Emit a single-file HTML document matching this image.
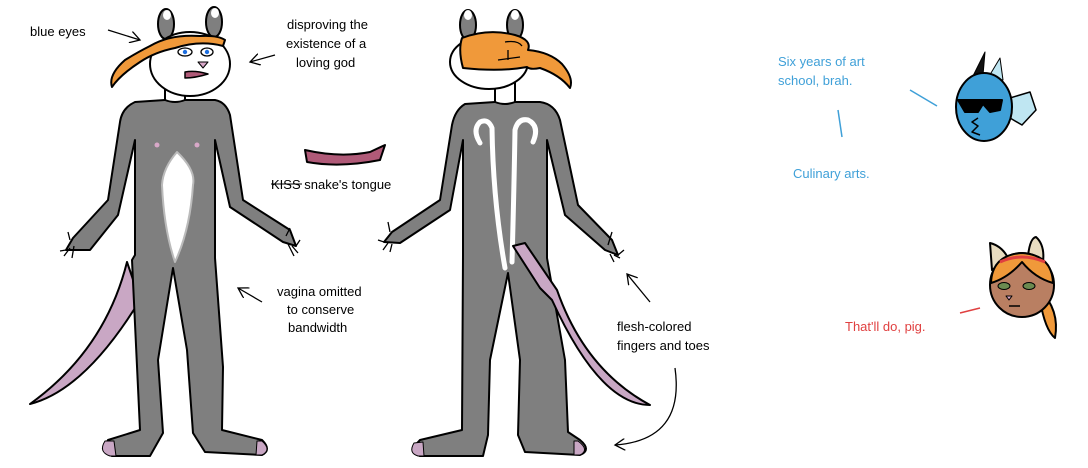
<!DOCTYPE html>
<html><head><style>
html,body{margin:0;padding:0;background:#fff;width:1088px;height:468px;overflow:hidden}
svg{display:block}
text{font-family:"Liberation Sans",sans-serif;font-size:13px;fill:#000}
</style></head><body>
<svg width="1088" height="468" viewBox="0 0 1088 468" xmlns="http://www.w3.org/2000/svg">
<defs>
<marker id="ah" markerWidth="12" markerHeight="12" refX="10" refY="6" orient="auto" markerUnits="userSpaceOnUse">
<path d="M0,0 L10,6 L0,12" fill="none" stroke="#000" stroke-width="1.3"/>
</marker>
</defs>
<g stroke="#000" stroke-width="2" stroke-linejoin="round">
<!-- FIGURE 1 tail -->
<path d="M127,262 Q105,350 30,404 Q85,390 140,300 Z" fill="#c9a7c4"/>
<!-- body -->
<path d="M165,100 L135,102 Q122,108 120,122 L108,200 L73,238 L66,250 L90,250 L118,215 L135,140 L135,255 L132,260 L140,430 L108,440 Q100,452 112,456 L150,456 L163,433 L158,360 L173,268 L187,350 L193,433 L205,452 L262,455 Q272,450 262,440 L222,430 L223,367 L215,258 L215,140 L230,207 L283,242 L296,246 L290,230 L243,200 L230,115 Q226,102 215,100 L185,100 Z" fill="#7f7f7f"/>
<path d="M105,441 Q98,452 110,456 L116,456 L114,441 Z" fill="#c9a7c4" stroke-width="1"/>
<path d="M262,441 Q272,450 262,455 L256,455 L257,441 Z" fill="#c9a7c4" stroke-width="1"/>
<g stroke-width="1.3" fill="none"><path d="M66,250 L60,251 M70,248 L64,256 M74,246 L72,258 M70,240 L68,232"/><path d="M296,246 L300,240 M292,246 L298,253 M288,244 L294,256 M286,236 L290,228"/></g>
<!-- belly -->
<path d="M177,152 Q196,170 193,185 Q190,230 175,262 Q164,230 162,185 Q163,168 177,152 Z" fill="#fff" stroke="#bbb"/>
<circle cx="157" cy="145" r="2.5" fill="#d8a8c8" stroke="none"/>
<circle cx="197" cy="145" r="2.5" fill="#d8a8c8" stroke="none"/>
<!-- neck -->
<path d="M165,80 L165,100 Q175,104 185,100 L185,80 Z" fill="#fff"/>
<!-- ears -->
<ellipse cx="166" cy="24" rx="8" ry="15" fill="#7f7f7f"/>
<ellipse cx="214" cy="22" rx="8" ry="15" fill="#7f7f7f"/>
<ellipse cx="167" cy="15" rx="4" ry="5" fill="#fff" stroke="none"/>
<ellipse cx="215" cy="13" rx="4" ry="5" fill="#fff" stroke="none"/>
<!-- head -->
<ellipse cx="190" cy="64" rx="40" ry="32" fill="#fff"/>
<path d="M150,46 Q170,34 200,36 Q218,35 225,40 L223,46 Q200,40 175,48 Q155,52 140,62 Q120,75 112,87 Q108,75 125,60 Q138,52 150,46 Z" fill="#f0993a"/>
<ellipse cx="185" cy="52" rx="7" ry="4" fill="#fff" stroke-width="1.3"/>
<ellipse cx="207" cy="52" rx="6" ry="4" fill="#fff" stroke-width="1.3"/>
<circle cx="185" cy="52" r="2.2" fill="#1e6fe0" stroke="none"/>
<circle cx="207" cy="52" r="2.2" fill="#1e6fe0" stroke="none"/>
<path d="M198,62 L208,62 L203,68 Z" fill="#d8a8c8" stroke-width="1"/>
<path d="M185,72 Q195,70 208,74 Q195,78 185,78 Z" fill="#b05a78" stroke-width="1.5"/>

<!-- FIGURE 2 -->
<path d="M495,102 L465,104 Q455,110 452,125 L440,200 L392,232 L384,242 L400,243 L450,210 L463,140 L463,255 L462,430 L420,440 Q408,452 420,456 L483,456 L488,435 L490,360 L508,273 L520,360 L518,435 L525,452 L580,455 Q592,450 580,440 L568,432 L565,360 L547,258 L547,140 L565,215 L605,250 L618,255 L612,240 L578,205 L560,120 Q555,104 540,102 L515,102 Z" fill="#7f7f7f"/>
<path d="M414,443 Q408,453 418,456 L424,456 L423,442 Z" fill="#c9a7c4" stroke-width="1"/>
<path d="M578,441 Q590,450 580,455 L574,455 L574,441 Z" fill="#c9a7c4" stroke-width="1"/>
<g stroke-width="1.3" fill="none"><path d="M384,242 L378,240 M388,243 L383,250 M392,244 L390,252 M390,232 L388,222"/><path d="M618,255 L624,250 M614,255 L620,258 M610,254 L614,262 M608,245 L612,232"/></g>
<!-- swirls -->
<g fill="none" stroke="#fff" stroke-width="5" stroke-linecap="round">
<path d="M505,268 Q493,200 492,128 Q488,118 480,122 Q472,130 480,143"/>
<path d="M512,262 Q514,190 515,130 Q518,118 528,120 Q540,126 533,142"/>
</g>
<!-- tail -->
<path d="M513,246 L525,243 L557,290 Q585,370 650,405 Q600,405 552,300 L540,288 Z" fill="#c9a7c4"/>
<path d="M495,82 L495,102 Q505,106 515,102 L515,82 Z" fill="#fff"/>
<ellipse cx="468" cy="25" rx="8" ry="15" fill="#7f7f7f"/>
<ellipse cx="515" cy="25" rx="8" ry="15" fill="#7f7f7f"/>
<ellipse cx="468" cy="15" rx="4" ry="5" fill="#fff" stroke="none"/>
<ellipse cx="515" cy="15" rx="4" ry="5" fill="#fff" stroke="none"/>
<ellipse cx="489" cy="62" rx="39" ry="27" fill="#fff"/>
<path d="M462,38 Q488,28 515,35 Q532,40 528,50 Q550,52 562,64 Q574,78 570,88 Q560,75 540,68 Q530,70 527,67 Q500,72 463,68 Q458,50 462,38 Z" fill="#f0993a"/>
<path d="M505,42 Q518,40 522,46 M508,50 L508,60 M498,60 L520,57" fill="none" stroke-width="1.3"/>
<!-- tongue -->
<path d="M305,150 Q340,158 370,152 L385,145 L380,160 Q340,168 307,162 Z" fill="#b05a78"/>
<!-- FISH -->
<path d="M972,78 L985,52 L983,75 Z" fill="#111" stroke-width="1"/>
<path d="M988,78 L1000,58 L1003,80 Z" fill="#bfe6f2" stroke-width="1"/>
<path d="M1010,98 L1030,92 L1036,110 L1022,125 L1010,118 Z" fill="#bfe6f2" stroke-width="1.5"/>
<ellipse cx="984" cy="107" rx="28" ry="34" fill="#3fa0d8"/>
<path d="M958,100 L1002,100 L1000,110 L990,112 L983,104 L978,112 L965,112 Z" fill="#000"/>
<path d="M978,118 L972,122 L978,126 L972,132 L980,135" fill="none" stroke-width="1.5"/>
<!-- GIRL -->
<path d="M992,270 L990,243 Q1002,246 1008,258 Z" fill="#e8dcc0"/>
<path d="M1028,256 Q1030,238 1036,237 Q1045,245 1043,262 Z" fill="#e8dcc0"/>
<path d="M1040,290 Q1060,310 1055,338 Q1045,330 1040,300 Z" fill="#f0993a"/>
<circle cx="1022" cy="285" r="32" fill="#b97f62"/>
<path d="M991,283 Q992,255 1022,253 Q1052,255 1053,283 Q1035,278 1022,262 Q1008,278 991,283 Z" fill="#f0993a"/>
<path d="M1000,262 Q1022,252 1045,262" fill="none" stroke="#e04040" stroke-width="3"/>
<ellipse cx="1004" cy="286" rx="6" ry="3.5" fill="#6b8a50" stroke-width="1"/>
<ellipse cx="1029" cy="286" rx="6" ry="3.5" fill="#6b8a50" stroke-width="1"/>
<path d="M1006,296 L1012,296 L1009,300 Z" fill="#d8a8c8" stroke-width="1"/>
<path d="M1009,306 L1020,306" stroke-width="1.5"/>
</g>
<!-- arrows/lines -->
<g stroke="#000" stroke-width="1.3" fill="none">
<path d="M108,30 L140,40" marker-end="url(#ah)"/>
<path d="M275,55 L250,62" marker-end="url(#ah)"/>
<path d="M262,302 L238,288" marker-end="url(#ah)"/>
<path d="M650,302 L627,274" marker-end="url(#ah)"/>
<path d="M675,368 Q685,440 615,445" marker-end="url(#ah)"/>
</g>
<g stroke="#3fa0d8" stroke-width="1.5">
<line x1="910" y1="90" x2="937" y2="106"/>
<line x1="838" y1="110" x2="842" y2="137"/>
</g>
<line x1="960" y1="313" x2="980" y2="308" stroke="#e04040" stroke-width="1.5"/>
<!-- text -->
<text x="30" y="36">blue eyes</text>
<text x="287" y="29">disproving the</text>
<text x="286" y="48">existence of a</text>
<text x="296" y="67">loving god</text>
<text x="271" y="189">KISS snake's tongue</text>
<line x1="271" y1="184" x2="302" y2="184" stroke="#000" stroke-width="1"/>
<text x="277" y="296">vagina omitted</text>
<text x="287" y="314">to conserve</text>
<text x="288" y="332">bandwidth</text>
<text x="617" y="331">flesh-colored</text>
<text x="617" y="350">fingers and toes</text>
<text x="778" y="66" style="fill:#3fa0d8">Six years of art</text>
<text x="778" y="85" style="fill:#3fa0d8">school, brah.</text>
<text x="793" y="178" style="fill:#3fa0d8">Culinary arts.</text>
<text x="845" y="331" style="fill:#e04040">That'll do, pig.</text>
</svg>
</body></html>
